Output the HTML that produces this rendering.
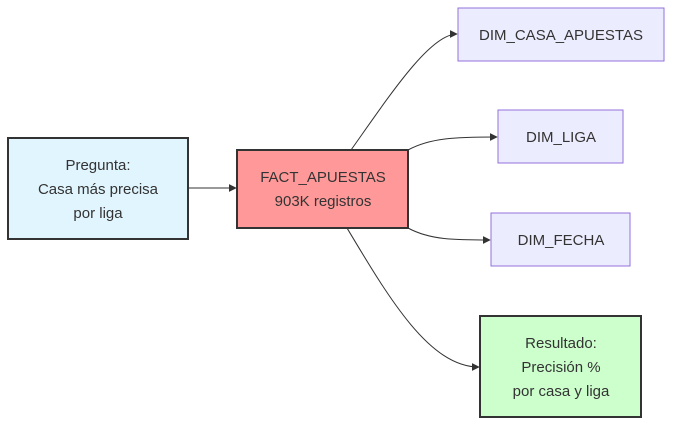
<!DOCTYPE html>
<html><head><meta charset="utf-8"><style>
html,body{margin:0;padding:0;background:#fff;width:680px;height:430px;overflow:hidden}
text{font-family:"Liberation Sans",sans-serif;font-size:15px;fill:#333;text-anchor:middle}
</style></head><body>
<svg width="680" height="430" viewBox="0 0 680 430" xmlns="http://www.w3.org/2000/svg">
<defs><marker id="a" viewBox="0 0 10 10" refX="9" refY="5" markerWidth="8" markerHeight="8" orient="auto"><path d="M0,0L10,5L0,10z" fill="#333"/></marker></defs>
<g fill="none" stroke="#333" stroke-width="1" marker-end="url(#a)">
<path d="M188,188H236"/>
<path d="M351,150C390,95 430,34 457,34"/>
<path d="M408,150C430,138 455,137 497,137"/>
<path d="M408,228C430,240 455,240 490,240"/>
<path d="M347,228C390,300 430,367 479,367"/>
</g>
<rect x="8" y="138" width="180" height="101" fill="#e1f5fe" stroke="#333" stroke-width="2"/>
<text x="98" y="170">Pregunta:</text><text x="98" y="194">Casa más precisa</text><text x="98" y="218">por liga</text>
<rect x="237" y="150" width="171" height="78" fill="#ff9999" stroke="#333" stroke-width="2"/>
<text x="323" y="182">FACT_APUESTAS</text><text x="323" y="206">903K registros</text>
<rect x="458" y="8" width="206" height="53" fill="#ececff" stroke="#9370db" stroke-width="1"/>
<text x="561" y="40">DIM_CASA_APUESTAS</text>
<rect x="498" y="110" width="125" height="53" fill="#ececff" stroke="#9370db" stroke-width="1"/>
<text x="561" y="142">DIM_LIGA</text>
<rect x="491" y="213" width="139" height="53" fill="#ececff" stroke="#9370db" stroke-width="1"/>
<text x="561" y="245">DIM_FECHA</text>
<rect x="480" y="316" width="161" height="101" fill="#ccffcc" stroke="#333" stroke-width="2"/>
<text x="561" y="348">Resultado:</text><text x="561" y="372">Precisión %</text><text x="561" y="396">por casa y liga</text>
</svg>
</body></html>
